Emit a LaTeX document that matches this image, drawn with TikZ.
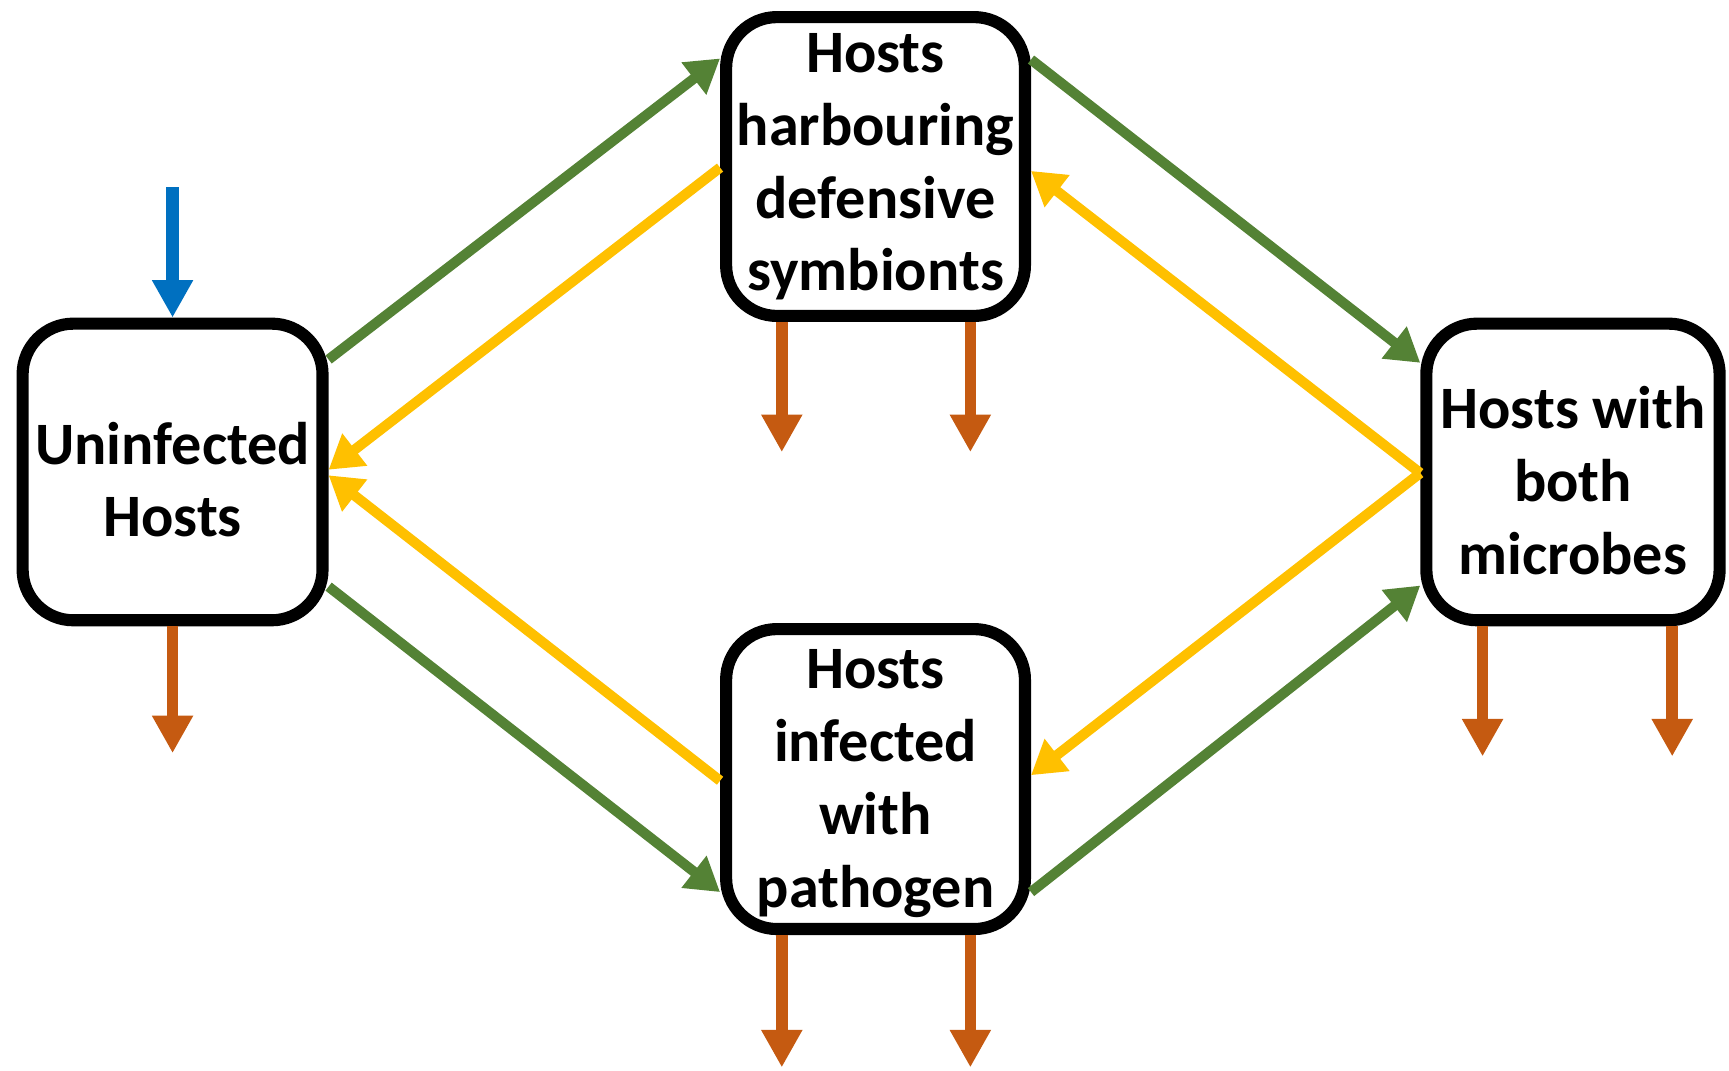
\documentclass[tikz,border=0pt]{standalone}
\usepackage{fontspec}
\setmainfont{Carlito}
\usetikzlibrary{arrows.meta,calc}
\definecolor{flowgreen}{RGB}{84,130,53}
\definecolor{flowyellow}{RGB}{255,192,0}
\definecolor{flowbrown}{RGB}{197,90,17}
\definecolor{flowblue}{RGB}{0,112,192}
% centred multi-line label, moved down by #1 without changing its size
\newcommand{\droplines}[2]{\raisebox{-#1}[\height][\depth]{\begin{tabular}{@{}c@{}}#2\end{tabular}}}
\begin{document}
\begin{tikzpicture}[x=0.5pt,y=-0.5pt,
  state/.style={draw=black, line width=5.5pt, fill=white, rounded corners=23pt,
    align=center, inner sep=0pt,
    font=\bfseries\fontsize{27.3}{33}\selectfont},
  gain/.style={draw=flowgreen, line width=4.6pt, -{Triangle[width=17.5pt,length=15pt]}},
  loss/.style={draw=flowyellow, line width=4.6pt, -{Triangle[width=17.5pt,length=15pt]}},
  death/.style={draw=flowbrown, line width=5.3pt, -{Triangle[width=17.5pt,length=17pt]}},
  birth/.style={draw=flowblue, line width=5.6pt, -{Triangle[width=17.5pt,length=17pt]}}]

\useasboundingbox (0,0) rectangle (1568,971);

% host classes
\node[state, minimum width=136pt, minimum height=134.5pt] (U) at (156.5,428)
  {\droplines{6.3pt}{Uninfected\\Hosts}};
\node[state, minimum width=135.5pt, minimum height=135.5pt] (D) at (794,151)
  {\droplines{0.3pt}{Hosts\\harbouring\\defensive\\symbionts}};
\node[state, minimum width=135.5pt, minimum height=136pt] (P) at (794,706.5)
  {\droplines{2pt}{Hosts\\infected\\with\\pathogen}};
\node[state, minimum width=133pt, minimum height=134.5pt] (B) at (1426.5,428)
  {\droplines{6.8pt}{Hosts with\\both\\microbes}};

% acquisition of microbes
\draw[gain] ($(U.east)+(0,-102)$) -- ($(D.west)+(0,-98)$);
\draw[gain] ($(U.east)+(0,104)$) -- ($(P.west)+(0,102.5)$);
\draw[gain] ($(D.east)+(0,-97)$) -- ($(B.west)+(0,-99)$);
\draw[gain] ($(P.east)+(0,102.5)$) -- ($(B.west)+(0,103)$);

% loss of microbes
\draw[loss] ($(D.west)+(0,1)$) -- ($(U.east)+(0,-2)$);
\draw[loss] ($(P.west)+(0,1.5)$) -- ($(U.east)+(0,3)$);
\draw[loss] ($(B.west)+(0,1)$) -- ($(D.east)+(0,4)$);
\draw[loss] ($(B.west)+(0,1)$) -- ($(P.east)+(0,-3.5)$);

% births
\coordinate (uIn) at (156.5,170);
\draw[birth] (uIn) -- (U.north);

% deaths
\coordinate (uOut) at ($(U.south)+(0,115)$);
\draw[death] (U.south) -- (uOut);
\coordinate (dOutA) at ($(D.south)+(-85,118)$);
\coordinate (dOutB) at ($(D.south)+(86,118)$);
\draw[death] ($(D.south)+(-85,0)$) -- (dOutA);
\draw[death] ($(D.south)+(86,0)$) -- (dOutB);
\coordinate (pOutA) at ($(P.south)+(-85,120)$);
\coordinate (pOutB) at ($(P.south)+(86,120)$);
\draw[death] ($(P.south)+(-85,0)$) -- (pOutA);
\draw[death] ($(P.south)+(86,0)$) -- (pOutB);
\coordinate (bOutA) at ($(B.south)+(-82,118)$);
\coordinate (bOutB) at ($(B.south)+(90,118)$);
\draw[death] ($(B.south)+(-82,0)$) -- (bOutA);
\draw[death] ($(B.south)+(90,0)$) -- (bOutB);
\end{tikzpicture}
\end{document}
